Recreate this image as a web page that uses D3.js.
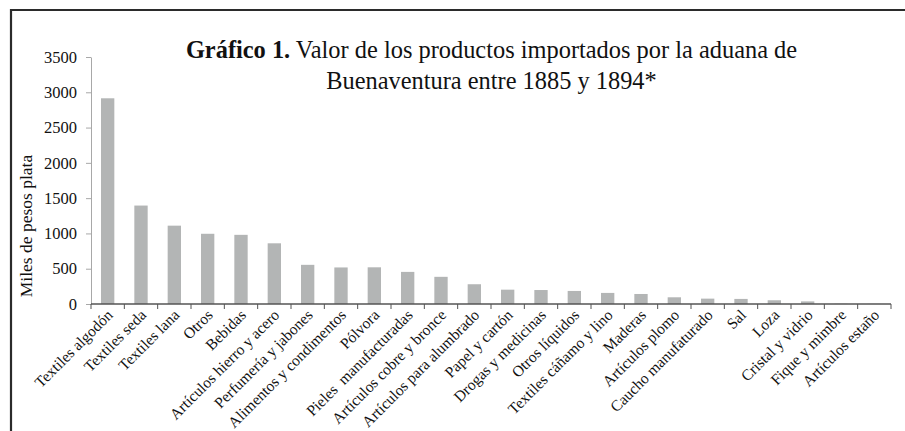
<!DOCTYPE html>
<html>
<head>
<meta charset="utf-8">
<script src="https://cdn.jsdelivr.net/npm/d3@7"></script>
<style>
  body { margin: 0; background: #fff; }
  svg { display: block; }
  svg text { font-family: "Liberation Serif", "DejaVu Serif", serif; }
</style>
</head>
<body>
<svg class="chart"></svg>
<script>
//Categories and values (miles de pesos plata)
const categories = [
  'Textiles algodón', 'Textiles seda', 'Textiles lana', 'Otros', 'Bebidas',
  'Artículos hierro y acero', 'Perfumería y jabones', 'Alimentos y condimentos',
  'Pólvora', 'Pieles  manufacturadas', 'Artículos cobre y bronce',
  'Artículos para alumbrado', 'Papel y cartón', 'Drogas y medicinas',
  'Otros líquidos', 'Textiles cáñamo y lino', 'Maderas', 'Artículos plomo',
  'Caucho manufaturado', 'Sal', 'Loza', 'Cristal y vidrio', 'Fique y mimbre',
  'Artículos estaño'
];
const values = [
  2915, 1395, 1110, 995, 980, 860, 555, 518, 520, 455, 385, 280,
  203, 198, 185, 157, 142, 95, 76, 72, 53, 37, 3, 2
];
const yTicks = [0, 500, 1000, 1500, 2000, 2500, 3000, 3500];

//Parameters for svg
let width = 905;
let height = 431;
let margin = { top: 57, left: 91, right: 14, bottom: 127 };
let serif = '"Liberation Serif", "DejaVu Serif", serif';

let svg = d3.select('svg.chart')
  .attr('width', width)
  .attr('height', height);

//Frame
svg.append('path')
  .attr('d', 'M11,431 V10 H905')
  .attr('fill', 'none')
  .attr('stroke', '#2b2b2b')
  .attr('stroke-width', 2.2);

//Scales
let x = d3.scaleBand()
  .domain(categories)
  .range([margin.left, margin.left + 800])
  .paddingInner(0.6)
  .paddingOuter(0.3);

let y = d3.scaleLinear()
  .domain([0, 3500])
  .range([height - margin.bottom, margin.top]);

//Bars
svg.append('g')
  .selectAll('rect')
  .data(values)
  .enter()
  .append('rect')
    .attr('x', (d, i) => x(categories[i]))
    .attr('width', x.bandwidth())
    .attr('y', d => y(d))
    .attr('height', d => y(0) - y(d))
    .attr('fill', '#b3b5b5');

//Y axis
let yAxis = svg.append('g')
  .attr('transform', 'translate(' + margin.left + ',0)')
  .call(d3.axisLeft(y).tickValues(yTicks).tickFormat(d3.format('d'))
    .tickSize(5).tickSizeOuter(0).tickPadding(9));
yAxis.attr('font-family', serif);
yAxis.select('.domain').attr('stroke', '#a8a8a8');
yAxis.selectAll('.tick line').attr('stroke', '#a8a8a8');
yAxis.selectAll('text')
  .attr('font-size', 16.5)
  .attr('fill', '#111');

//X axis: ticks on category boundaries
let boundaries = d3.range(categories.length + 1).map(i => margin.left + i * 800 / categories.length);
let xAxis = svg.append('g');
xAxis.append('line')
  .attr('x1', margin.left).attr('x2', margin.left + 800)
  .attr('y1', y(0)).attr('y2', y(0))
  .attr('stroke', '#555')
  .attr('stroke-width', 1.5);
xAxis.selectAll('.bt')
  .data(boundaries)
  .enter()
  .append('line')
    .attr('class', 'bt')
    .attr('x1', d => d).attr('x2', d => d)
    .attr('y1', y(0)).attr('y2', y(0) + 5)
    .attr('stroke', '#555');

xAxis.selectAll('text')
  .data(categories)
  .enter()
  .append('text')
    .attr('transform', d => 'translate(' + (x(d) + x.bandwidth() / 2 + 6) + ',' + (y(0) + 12) + ') rotate(-45)')
    .attr('text-anchor', 'end')
    .attr('font-size', 15.5)
    .attr('fill', '#111')
    .attr('xml:space', 'preserve')
    .text(d => d);

//Y label
svg.append('text')
  .attr('transform', 'translate(32,' + 226 + ') rotate(-90)')
  .attr('text-anchor', 'middle')
  .attr('font-size', 17.5)
  .attr('fill', '#111')
  .text('Miles de pesos plata');

//Title
let title = svg.append('text')
  .attr('text-anchor', 'middle')
  .attr('font-size', 24.4)
  .attr('fill', '#111');
let t1 = title.append('tspan').attr('x', 491.5).attr('y', 58);
t1.append('tspan').attr('font-weight', 'bold').text('Gráfico 1.');
t1.append('tspan').text(' Valor de los productos importados por la aduana de');
title.append('tspan').attr('x', 491.5).attr('y', 89).text('Buenaventura entre 1885 y 1894*');
</script>
</body>
</html>
